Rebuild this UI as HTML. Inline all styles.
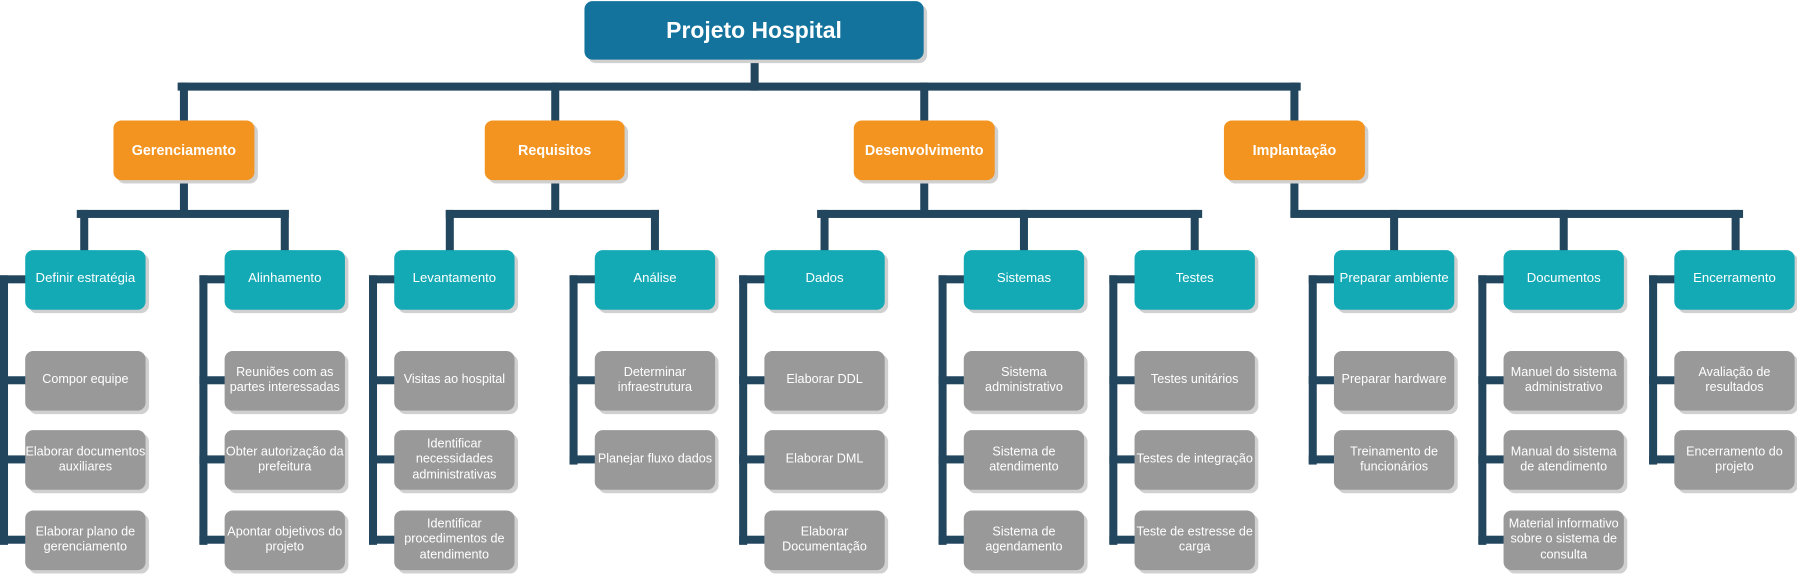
<!DOCTYPE html>
<html><head><meta charset="utf-8"><style>
html,body{margin:0;padding:0;background:#fff;width:1797px;height:577px;overflow:hidden}
#w{position:absolute;left:0;top:0;width:1568px;height:503px;transform:scale(1.1460,1.1471);transform-origin:0 0;font-family:"Liberation Sans",sans-serif}
.b{position:absolute;display:flex;align-items:center;justify-content:center;text-align:center;color:#fff;border-radius:7px;box-shadow:3px 3px 0 #d0d0d0;line-height:1.2}
.l{position:absolute;background:#23465f}
.r{background:#13739d;font-size:20px;font-weight:bold}
.o{background:#f39420;font-size:12.5px;font-weight:bold}
.t{background:#13a9b5;font-size:11.5px}
.g{background:#999;font-size:11px}
</style></head><body><div id="w">
<!-- root connectors -->
<div class="l" style="left:655px;top:52px;width:7px;height:27px"></div>
<div class="l" style="left:155px;top:72px;width:980px;height:7px"></div>
<div class="l" style="left:157px;top:72px;width:7px;height:34px"></div>
<div class="l" style="left:481px;top:72px;width:7px;height:34px"></div>
<div class="l" style="left:803px;top:72px;width:7px;height:34px"></div>
<div class="l" style="left:1126px;top:72px;width:7px;height:34px"></div>
<!-- L1 to L2 -->
<div class="l" style="left:157px;top:157px;width:7px;height:32px"></div>
<div class="l" style="left:67px;top:183px;width:185px;height:7px"></div>
<div class="l" style="left:70px;top:183px;width:7px;height:36px"></div>
<div class="l" style="left:245px;top:183px;width:7px;height:36px"></div>
<div class="l" style="left:481px;top:157px;width:7px;height:32px"></div>
<div class="l" style="left:389px;top:183px;width:186px;height:7px"></div>
<div class="l" style="left:389px;top:183px;width:7px;height:36px"></div>
<div class="l" style="left:568px;top:183px;width:7px;height:36px"></div>
<div class="l" style="left:803px;top:157px;width:7px;height:32px"></div>
<div class="l" style="left:713px;top:183px;width:336px;height:7px"></div>
<div class="l" style="left:716px;top:183px;width:7px;height:36px"></div>
<div class="l" style="left:890px;top:183px;width:7px;height:36px"></div>
<div class="l" style="left:1039px;top:183px;width:7px;height:36px"></div>
<div class="l" style="left:1126px;top:157px;width:7px;height:32px"></div>
<div class="l" style="left:1126px;top:183px;width:395px;height:7px"></div>
<div class="l" style="left:1213px;top:183px;width:7px;height:36px"></div>
<div class="l" style="left:1361px;top:183px;width:7px;height:36px"></div>
<div class="l" style="left:1511px;top:183px;width:7px;height:36px"></div>

<div class="b r" style="left:510px;top:1px;width:296px;height:51px">Projeto Hospital</div>
<div class="b o" style="left:99px;top:105px;width:123px;height:52px">Gerenciamento</div>
<div class="b o" style="left:423px;top:105px;width:122px;height:52px">Requisitos</div>
<div class="b o" style="left:745px;top:105px;width:123px;height:52px">Desenvolvimento</div>
<div class="b o" style="left:1068px;top:105px;width:123px;height:52px">Implantação</div>

<div id="groups"></div>
</div>
<script>
var G=[
[22,"Definir estratégia",["Compor equipe","Elaborar documentos auxiliares","Elaborar plano de gerenciamento"]],
[196,"Alinhamento",["Reuniões com as partes interessadas","Obter autorização da prefeitura","Apontar objetivos do projeto"]],
[344,"Levantamento",["Visitas ao hospital","Identificar necessidades administrativas","Identificar procedimentos de atendimento"]],
[519,"Análise",["Determinar infraestrutura","Planejar fluxo dados"]],
[667,"Dados",["Elaborar DDL","Elaborar DML","Elaborar Documentação"]],
[841,"Sistemas",["Sistema administrativo","Sistema de atendimento","Sistema de agendamento"]],
[990,"Testes",["Testes unitários","Testes de integração","Teste de estresse de carga"]],
[1164,"Preparar ambiente",["Preparar hardware","Treinamento de funcionários"]],
[1312,"Documentos",["Manuel do sistema administrativo","Manual do sistema de atendimento","Material informativo sobre o sistema de consulta"]],
[1461,"Encerramento",["Avaliação de resultados","Encerramento do projeto"]]];
var ys=[306,375,445],h="";
G.forEach(function(g){
 var x=g[0],lx=x-22,n=g[2].length,last=ys[n-1]+26;
 h+='<div class="l" style="left:'+lx+'px;top:240px;width:7px;height:'+(last-240+4)+'px"></div>';
 h+='<div class="l" style="left:'+lx+'px;top:240px;width:24px;height:7px"></div>';
 g[2].forEach(function(t,i){h+='<div class="l" style="left:'+lx+'px;top:'+(ys[i]+22)+'px;width:24px;height:7px"></div>';});
 h+='<div class="b t" style="left:'+x+'px;top:218px;width:105px;height:52px">'+g[1]+'</div>';
 g[2].forEach(function(t,i){h+='<div class="b g" style="left:'+x+'px;top:'+ys[i]+'px;width:105px;height:52px">'+t+'</div>';});
});
document.getElementById("groups").innerHTML=h;
</script>
</body></html>
